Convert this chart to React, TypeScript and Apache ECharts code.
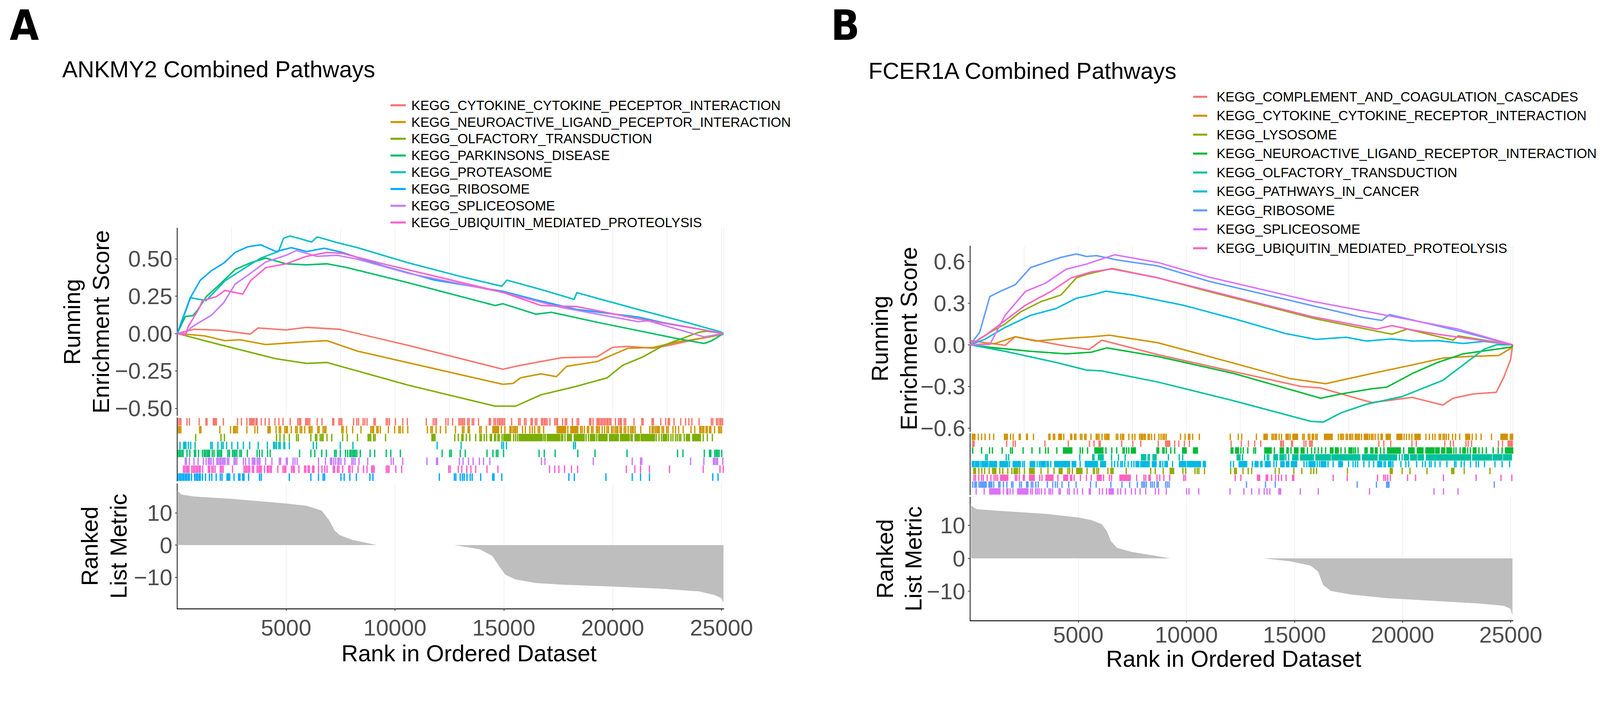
import { useEffect, useRef } from 'react'
import * as echarts from 'echarts'

const FONT = "'Liberation Sans', Arial, sans-serif"
const TAG_FONT = "'Liberation Sans Narrow', 'DejaVu Sans Condensed', 'Liberation Sans', sans-serif"

const PAGE_W = 4298
const PAGE_H = 1811

// shared axis settings
const RANK_MAX = 25100
const rankTicks = [5000, 10000, 15000, 20000, 25000]
const metricTicks = [-10, 0, 10]
const metricTickLabels = ['−10', '0', '10']

// ---------------- panel A : ANKMY2 ----------------
const namesA = [
  'KEGG_CYTOKINE_CYTOKINE_PECEPTOR_INTERACTION',
  'KEGG_NEUROACTIVE_LIGAND_PECEPTOR_INTERACTION',
  'KEGG_OLFACTORY_TRANSDUCTION',
  'KEGG_PARKINSONS_DISEASE',
  'KEGG_PROTEASOME',
  'KEGG_RIBOSOME',
  'KEGG_SPLICEOSOME',
  'KEGG_UBIQUITIN_MEDIATED_PROTEOLYSIS',
]
const colorsA = ['#F8766D', '#CD9600', '#7CAE00', '#00BE67', '#00BFC4', '#00A9FF', '#C77CFF', '#FF61CC']
const esTicksA = [-0.5, -0.25, 0, 0.25, 0.5]
const esTickLabelsA = ['−0.50', '−0.25', '0.00', '0.25', '0.50']

const cytokineEsA = [[0, 0], [786, 0.028], [1957, 0.022], [3363, -0.004], [3714, 0.037], [5002, 0.024], [5939, 0.041], [7461, 0.028], [10623, -0.08], [14955, -0.239], [15541, -0.22], [16946, -0.181], [17648, -0.162], [19288, -0.156], [19990, -0.093], [20693, -0.086], [21864, -0.099], [22567, -0.08], [23738, -0.042], [24675, -0.016], [25090, 0]]
const neuroEsA = [[0, 0], [1255, -0.016], [2192, -0.048], [2894, -0.042], [4065, -0.074], [5939, -0.055], [6876, -0.048], [8281, -0.118], [14955, -0.34], [15424, -0.334], [15775, -0.296], [16712, -0.27], [17415, -0.289], [17883, -0.22], [19288, -0.188], [19990, -0.143], [20693, -0.099], [21864, -0.093], [23035, -0.055], [24207, -0.029], [25090, -0.005]]
const olfEsA = [[0, 0], [2015, -0.077], [4534, -0.169], [5939, -0.2], [6876, -0.194], [10623, -0.346], [14604, -0.486], [15541, -0.486], [16712, -0.41], [18352, -0.353], [19756, -0.296], [20459, -0.213], [21396, -0.156], [22333, -0.08], [23972, 0.009], [24324, 0.015], [25090, 0]]
const parkEsA = [[0, 0], [375, 0.114], [717, 0.119], [940, 0.157], [1332, 0.246], [1964, 0.33], [2660, 0.428], [3363, 0.472], [4065, 0.504], [5002, 0.466], [5939, 0.459], [6876, 0.466], [7813, 0.44], [10623, 0.339], [14604, 0.187], [14955, 0.199], [16478, 0.129], [17180, 0.142], [19288, 0.075], [23035, -0.036], [24207, -0.067], [24558, -0.048], [25090, 0]]
const protEsA = [[0, 0], [598, 0.239], [1332, 0.22], [2192, 0.352], [3129, 0.44], [3831, 0.504], [4651, 0.548], [4885, 0.637], [5190, 0.652], [6173, 0.612], [6431, 0.646], [7344, 0.608], [8281, 0.574], [10623, 0.472], [12965, 0.383], [14909, 0.316], [15143, 0.357], [16712, 0.294], [18235, 0.228], [18352, 0.273], [21162, 0.161], [23504, 0.07], [24956, 0.011], [25090, 0]]
const riboEsA = [[0, 0], [318, 0.123], [623, 0.244], [1060, 0.356], [1570, 0.42], [2135, 0.47], [2660, 0.542], [3246, 0.58], [3831, 0.593], [4534, 0.548], [5237, 0.574], [5939, 0.548], [6759, 0.57], [7579, 0.542], [9452, 0.453], [11794, 0.358], [14955, 0.282], [16478, 0.225], [18352, 0.161], [21162, 0.11], [22333, 0.072], [25090, 0]]
const spliceEsA = [[0, 0], [375, 0], [649, 0.04], [990, 0.072], [1571, 0.122], [2135, 0.206], [2660, 0.33], [3363, 0.402], [4065, 0.478], [5002, 0.523], [5471, 0.555], [6407, 0.516], [7344, 0.523], [8281, 0.497], [10623, 0.402], [14955, 0.275], [17648, 0.174], [21162, 0.079], [21631, 0.085], [24207, -0.023], [25090, 0]]
const ubiqEsA = [[0, 0], [375, -0.01], [512, 0.047], [990, 0.164], [1161, 0.22], [1793, 0.246], [2192, 0.288], [3012, 0.263], [3363, 0.352], [4065, 0.44], [5002, 0.466], [5939, 0.516], [6876, 0.542], [7579, 0.536], [9452, 0.466], [14955, 0.275], [16712, 0.187], [18352, 0.18], [21162, 0.098], [23504, 0.041], [25090, 0]]

const hitsCytokineA = [40, 110, 170, 450, 560, 1010, 1320, 1370, 1660, 1700, 1750, 1800, 2120, 2770, 2950, 3200, 3330, 3380, 3430, 3480, 3540, 3620, 3670, 3860, 4040, 4220, 4490, 4670, 4860, 5190, 5540, 5610, 5670, 5900, 5960, 6020, 6090, 6430, 6650, 7140, 7190, 7430, 7490, 7560, 8100, 8250, 8330, 8540, 8620, 8720, 9040, 9100, 9600, 9670, 9750, 10020, 10360, 10570, 11440, 11760, 11840, 11910, 12340, 12440, 12650, 12940, 13000, 13070, 13130, 13200, 13340, 13410, 13550, 13620, 13840, 14330, 14390, 14550, 14620, 14710, 14780, 14840, 14910, 14970, 15040, 15360, 15680, 15750, 15950, 16020, 16250, 16310, 16450, 16520, 16730, 16790, 16860, 16920, 16990, 17120, 17340, 17410, 17470, 17700, 17820, 17890, 18150, 18370, 18440, 18940, 19000, 19100, 19280, 19340, 19400, 19470, 19530, 19600, 19660, 19730, 19790, 19860, 19920, 20130, 20270, 20340, 20400, 20530, 20600, 20980, 21340, 21400, 21810, 21870, 22210, 22440, 22550, 22610, 22820, 23130, 23350, 23500, 23640, 23970, 24530, 24600, 24770, 24840, 24920, 24980, 25050]
const hitsNeuroA = [60, 110, 170, 1030, 1090, 1960, 2450, 2590, 2640, 2700, 2770, 3200, 3570, 3690, 4170, 4220, 4270, 4540, 4690, 4750, 4940, 5010, 5060, 5240, 5440, 5510, 5650, 5720, 5860, 6060, 6120, 6190, 6460, 6520, 6700, 6770, 6830, 7560, 7620, 7780, 8060, 8440, 8890, 8960, 9020, 9170, 9230, 9330, 9700, 9990, 10180, 10250, 10360, 10590, 11490, 11650, 11720, 11890, 12090, 12340, 12780, 13100, 13170, 13360, 13420, 13890, 13960, 14200, 14890, 15050, 15280, 15340, 15420, 15490, 15550, 15620, 15860, 15990, 16200, 16310, 16420, 16580, 16650, 16830, 17940, 18530, 18600, 18700, 18840, 18900, 19030, 19100, 19260, 19320, 19390, 19520, 19630, 19740, 19810, 19950, 20020, 20110, 20180, 20240, 20340, 20400, 20530, 20600, 20710, 20820, 20890, 20950, 21030, 21290, 21710, 21810, 21870, 21950, 22020, 22080, 22140, 22270, 22340, 22480, 22550, 22770, 22890, 23030, 23240, 23600, 23770, 24000, 24060, 24130, 24190, 24290, 24350, 24450, 24510, 24680, 24870, 24930, 25000]
const runsNeuroA = [[14500, 14760], [17450, 17840], [18080, 18400]]
const hitsOlfA = [850, 2010, 2170, 4560, 4720, 4910, 5150, 5480, 5560, 6140, 6350, 6410, 6570, 6640, 6700, 6880, 7100, 7600, 7810, 8280, 8770, 8830, 8890, 9020, 9090, 9570, 12750, 12910, 13070, 13130, 13280, 13440, 13710, 13910, 13970, 14100, 14210, 14380, 14440, 14570, 14630, 14730, 14790, 14920, 15450, 15540, 15630, 16840, 16910, 17650, 17710, 17810, 18780, 18890, 19270, 20840, 20900, 22000, 22130, 22240, 22560, 22680, 22770, 22890, 22970, 23060, 23130, 23290, 24160, 24350, 24580]
const runsOlfA = [[11700, 11840], [15000, 15310], [15710, 16310], [16360, 16760], [17000, 17570], [17920, 18100], [18240, 18690], [18980, 19180], [19360, 19740], [19860, 20260], [20360, 20760], [21030, 21230], [21310, 21600], [21650, 21920], [22320, 22480], [23390, 23530], [23680, 24030]]
const hitsParkA = [40, 110, 170, 240, 270, 450, 580, 790, 850, 980, 1160, 1240, 1300, 1370, 1430, 1490, 1610, 1690, 1850, 1910, 1980, 2040, 2330, 2400, 2540, 2610, 2670, 2740, 2880, 2950, 3220, 3670, 3780, 3900, 4150, 4270, 5620, 6140, 6320, 6640, 6850, 7230, 7300, 7490, 7730, 7830, 7930, 7990, 8060, 8120, 8180, 8250, 8410, 8860, 9070, 9600, 9810, 10250, 12170, 12520, 12590, 13000, 13230, 14230, 14500, 14660, 14730, 14990, 16620, 16860, 17360, 18400, 19190, 20660, 22980, 23230, 24210, 24450, 24510, 24690, 24760, 24820, 24890, 25010]
const hitsProtA = [130, 300, 350, 400, 510, 620, 820, 1540, 1610, 1870, 2040, 2110, 2270, 2510, 2780, 3040, 3330, 3720, 4140, 4430, 4490, 4560, 4670, 4730, 4900, 4940, 5150, 6250, 6400, 7490, 8070, 11940, 13040, 14910, 14990, 15120, 18210, 18290]
const hitsRiboA = [40, 110, 170, 240, 300, 370, 430, 500, 560, 660, 800, 870, 930, 1000, 1060, 1160, 1300, 1480, 1590, 1790, 1980, 2060, 2290, 2350, 2410, 2610, 2820, 2880, 3010, 3070, 3280, 3780, 3860, 5150, 6140, 6490, 6700, 6770, 7520, 7670, 7930, 8230, 8850, 8990, 12040, 12730, 12800, 13000, 13100, 13180, 13310, 13460, 13550, 13940, 14490, 14550, 14910, 17990, 18240, 19690, 20900, 21280, 21690, 24600, 24840]
const hitsSpliceA = [370, 420, 560, 770, 960, 1200, 1330, 1430, 1490, 1560, 1660, 1820, 1880, 1950, 2010, 2080, 2140, 2200, 2300, 2370, 2610, 2670, 2740, 3040, 3140, 3300, 3450, 3510, 3570, 3670, 3740, 3800, 4060, 4350, 4690, 4750, 5010, 5060, 5320, 5410, 5510, 6490, 6810, 7040, 7100, 7190, 7280, 7380, 7440, 7520, 7700, 8020, 8090, 8170, 8350, 8750, 9830, 9930, 10360, 11470, 11910, 11960, 12960, 13130, 13380, 13590, 13880, 14070, 14360, 16730, 16890, 19110, 20900, 21280, 21340, 23580, 24190, 24630, 24690, 24760, 24820, 25060]
const hitsUbiqA = [290, 350, 420, 480, 540, 670, 740, 800, 870, 930, 1000, 1060, 1170, 1430, 1490, 1590, 1660, 1740, 1980, 2040, 2110, 2540, 3070, 3140, 3200, 3270, 3330, 3450, 3510, 3670, 3740, 3800, 3860, 4010, 4140, 4200, 4270, 4330, 4620, 4860, 4930, 4990, 5250, 5320, 5380, 5590, 5850, 5910, 6010, 6070, 6220, 6280, 6490, 6650, 6780, 6880, 7170, 7230, 7360, 7430, 7600, 7880, 7940, 8040, 8310, 8560, 8720, 8930, 8990, 9050, 9600, 9670, 9730, 10040, 10310, 12470, 12540, 12910, 13070, 13300, 13490, 13710, 14230, 14730, 17100, 17340, 17530, 17790, 18110, 18390, 20630, 21020, 21280, 21690, 22610, 24160, 24930, 25080]

// rug rows top to bottom, as indexes into namesA
const rugOrderA = [0, 1, 2, 4, 3, 6, 7, 5]

const metricPosA = [[0, 17.0], [190, 15.7], [770, 15.1], [2410, 14.4], [3820, 13.6], [5000, 12.9], [5940, 12.2], [6640, 10.7], [6990, 7.6], [7230, 4.5], [7460, 3.1], [8050, 1.6], [9170, 0]]
const metricNegA = [[12730, 0], [13900, -1.3], [14480, -3.4], [14790, -6.6], [15070, -9.2], [15540, -10.7], [16480, -11.8], [17650, -12.3], [19990, -12.9], [22330, -13.6], [23970, -14.4], [24670, -15.5], [25000, -16.5], [25090, -18.0]]

// ---------------- panel B : FCER1A ----------------
const namesB = [
  'KEGG_COMPLEMENT_AND_COAGULATION_CASCADES',
  'KEGG_CYTOKINE_CYTOKINE_RECEPTOR_INTERACTION',
  'KEGG_LYSOSOME',
  'KEGG_NEUROACTIVE_LIGAND_RECEPTOR_INTERACTION',
  'KEGG_OLFACTORY_TRANSDUCTION',
  'KEGG_PATHWAYS_IN_CANCER',
  'KEGG_RIBOSOME',
  'KEGG_SPLICEOSOME',
  'KEGG_UBIQUITIN_MEDIATED_PROTEOLYSIS',
]
const colorsB = ['#F8766D', '#D39200', '#93AA00', '#00BA38', '#00C19F', '#00B9E3', '#619CFF', '#DB72FB', '#FF61C3']
const esTicksB = [-0.6, -0.3, 0, 0.3, 0.6]
const esTickLabelsB = ['−0.6', '−0.3', '0.0', '0.3', '0.6']

const complEsB = [[0, 0.03], [1616, -0.004], [2087, 0.058], [4441, -0.01], [5500, -0.034], [6089, 0.033], [8678, -0.071], [12209, -0.194], [15269, -0.299], [16211, -0.311], [18565, -0.416], [20448, -0.379], [21860, -0.434], [22331, -0.385], [23272, -0.354], [24331, -0.342], [24686, -0.231], [24991, -0.108], [25090, 0]]
const cytoEsB = [[0, 0], [1145, 0.009], [2087, 0.058], [3028, 0.027], [4441, 0.046], [5618, 0.058], [6442, 0.069], [8678, 0.015], [12209, -0.133], [14799, -0.244], [16446, -0.28], [17152, -0.256], [18565, -0.207], [20448, -0.145], [21860, -0.096], [23037, -0.084], [24450, -0.077], [25038, -0.022], [25090, 0]]
const lysoEsB = [[0, 0], [910, 0.089], [1616, 0.15], [2322, 0.236], [3264, 0.31], [4205, 0.359], [4912, 0.482], [5382, 0.507], [6559, 0.55], [8678, 0.482], [11032, 0.384], [15975, 0.187], [19506, 0.076], [20213, 0.113], [22331, 0.033], [22567, 0.064], [25090, 0]]
const neuroEsB = [[0, 0], [1145, -0.022], [2793, -0.047], [4441, -0.065], [5618, -0.053], [6324, -0.022], [8678, -0.084], [12209, -0.207], [16211, -0.385], [17152, -0.354], [18565, -0.317], [19271, -0.305], [20448, -0.207], [21625, -0.127], [22802, -0.065], [24214, -0.034], [25038, -0.016], [25090, 0]]
const olfEsB = [[0, 0], [1616, -0.047], [3970, -0.127], [5382, -0.182], [6089, -0.188], [8678, -0.268], [12209, -0.404], [15740, -0.551], [16329, -0.557], [17152, -0.49], [18329, -0.428], [19977, -0.373], [21860, -0.256], [22802, -0.145], [23744, -0.034], [24331, 0], [25090, 0]]
const cancerEsB = [[0, 0], [675, 0.039], [1616, 0.125], [2793, 0.212], [3970, 0.261], [4912, 0.335], [5618, 0.359], [6277, 0.386], [7501, 0.359], [9855, 0.285], [12209, 0.187], [14563, 0.082], [15975, 0.039], [17388, 0.054], [18329, 0.027], [19506, 0.042], [20448, 0.027], [21625, 0.03], [22802, 0.009], [23744, 0.025], [25090, 0]]
const riboEsB = [[0, 0], [439, 0.089], [910, 0.347], [1381, 0.384], [2087, 0.433], [2793, 0.556], [3499, 0.593], [4205, 0.63], [4912, 0.654], [5382, 0.636], [5853, 0.642], [6795, 0.611], [8678, 0.568], [11032, 0.458], [15740, 0.285], [18094, 0.199], [19036, 0.175], [19389, 0.218], [22567, 0.101], [25090, 0]]
const spliceEsB = [[0, 0], [910, 0.002], [1616, 0.212], [2558, 0.384], [3499, 0.445], [4441, 0.544], [5382, 0.581], [6324, 0.63], [6677, 0.648], [8678, 0.593], [11032, 0.488], [15740, 0.316], [19271, 0.212], [22567, 0.113], [25090, 0]]
const ubiqEsB = [[0, 0], [675, 0.064], [1616, 0.175], [2558, 0.285], [3734, 0.384], [4676, 0.482], [5618, 0.525], [6559, 0.546], [8678, 0.482], [11032, 0.39], [15740, 0.205], [18800, 0.113], [19506, 0.138], [20448, 0.107], [21625, 0.076], [25090, 0]]

const hitsComplB = [120, 180, 1690, 1990, 2090, 3460, 4540, 5520, 5730, 5960, 6020, 7010, 7520, 7890, 8700, 9460, 9650, 9910, 10140, 12070, 12540, 12870, 13160, 13440, 14360, 14420, 14490, 14860, 14910, 15440, 15530, 15700, 15760, 15820, 18900, 19130, 19450, 20430, 20630, 21950, 22210, 22350, 22930, 23030, 23190, 24430, 24620]
const runsComplB = [[9040, 9230], [24880, 25070]]
const hitsCytoB = [100, 160, 220, 380, 530, 690, 900, 1090, 1870, 1990, 2270, 2320, 2610, 2650, 2930, 3640, 3690, 3850, 3910, 4330, 4650, 4700, 4830, 4890, 5100, 5170, 5300, 5360, 5590, 5830, 5890, 5960, 6100, 6230, 6300, 6360, 6420, 6760, 6830, 6960, 7040, 7100, 7340, 7500, 7620, 7840, 7910, 7970, 8040, 8100, 8230, 8290, 8390, 8530, 8730, 8830, 8920, 8990, 9070, 9730, 9940, 10100, 10160, 10290, 10600, 12030, 12400, 12560, 13240, 13960, 14030, 14110, 14170, 14290, 14400, 14800, 15380, 15450, 15640, 15710, 15820, 15880, 15980, 16050, 17030, 17130, 17190, 17260, 17390, 17450, 17550, 17610, 17690, 17810, 17870, 17940, 18000, 18100, 18470, 18560, 18630, 18730, 18870, 19000, 19060, 20070, 20180, 20300, 20430, 21080, 21240, 21390, 21500, 21690, 21760, 21870, 21940, 22020, 22130, 22310, 22450, 22640, 23220, 23400, 23630, 24110]
const runsCytoB = [[1590, 1720], [4100, 4220], [13590, 13740], [14610, 14720], [14930, 15140], [16390, 16740], [18230, 18390], [19240, 19430], [19740, 19970], [20570, 20810], [22920, 23100], [24550, 24840], [24980, 25090]]
const hitsLysoB = [400, 540, 670, 880, 1370, 1510, 1740, 1930, 2280, 2510, 3280, 3600, 3880, 4520, 4600, 4730, 5410, 5700, 5750, 5860, 5940, 6370, 7220, 8350, 8560, 8930, 9840, 9970, 10400, 10500, 10580, 10840, 12050, 12620, 12860, 13020, 14110, 14290, 14970, 15340, 15760, 15890, 16020, 17450, 19980, 20340, 21130, 22850, 24040]
const runsLysoB = [[170, 250], [1040, 1190], [2030, 2190], [2750, 2960], [4120, 4250], [4930, 5170], [6510, 6610], [9250, 9410], [12230, 12310], [19430, 19520], [22270, 22370]]
const hitsNeuroB = [120, 530, 900, 1030, 1480, 1870, 1950, 2450, 2860, 3220, 3490, 3610, 4010, 5090, 5200, 5430, 6280, 6550, 6780, 7070, 7130, 7230, 7340, 8910, 8970, 9070, 9280, 9460, 12520, 12630, 12840, 13120, 13200, 14070, 14650, 14710, 14840, 15600, 15790, 15940, 16100, 16260, 16440, 17150, 17340, 17740, 17820, 17940, 18980, 19140, 20050, 22370, 22470, 22660, 23010, 23130, 23530, 23690, 23870, 24190, 24420, 24600]
const runsNeuroB = [[4320, 4700], [5770, 6140], [7460, 7640], [8640, 8720], [9830, 9990], [10330, 10510], [12070, 12150], [12280, 12410], [13630, 13920], [14340, 14490], [15000, 15160], [15310, 15440], [16660, 16780], [16890, 17020], [17520, 17660], [18260, 18360], [18530, 18630], [18740, 18820], [19310, 19890], [20280, 20530], [20680, 20940], [21080, 21450], [21530, 21690], [21810, 21950], [22050, 22260], [22790, 22900], [23270, 23390], [24760, 25090]]
const hitsOlfB = [720, 790, 1670, 1780, 5070, 5670, 5730, 6150, 6540, 6860, 7170, 8230, 8290, 9170, 9670, 9830, 12600, 13620, 13740, 13810, 14600, 14730, 15870, 19850, 19980]
const runsOlfB = [[5930, 6100], [7930, 8120], [8460, 8600], [12350, 12480], [14050, 14210], [14330, 14520], [14920, 15160], [15280, 15810], [15990, 16660], [16740, 18020], [18150, 18820], [18920, 19720], [20080, 20270], [20370, 20640], [20720, 20960], [21100, 23140], [23240, 24110], [24190, 24590], [24670, 25030]]
const hitsCancerB = [490, 1820, 2430, 2510, 3100, 3200, 3560, 3620, 3730, 5090, 6550, 6680, 6830, 6970, 7040, 7150, 7310, 7460, 7570, 8280, 8770, 8810, 8910, 9360, 12050, 12180, 13050, 13440, 13500, 14050, 14160, 15440, 15570, 15950, 16050, 16160, 16550, 16790, 17500, 17710, 17820, 17920, 18210, 18450, 18660, 19140, 19210, 19550, 19920, 20150, 20280, 20650, 20920, 21050, 21240, 21320, 21500, 21730, 22050, 22400, 22470, 22710, 22850, 23140, 23400, 23510, 23790, 24270, 24600, 24950]
const runsCancerB = [[100, 180], [250, 410], [560, 820], [900, 1030], [1090, 1220], [1380, 1560], [1610, 1740], [1990, 2320], [2780, 2990], [3270, 3480], [3910, 4150], [4200, 4600], [4720, 4880], [5330, 5890], [6040, 6260], [7670, 7800], [7890, 8230], [8430, 8600], [9010, 9120], [9680, 9970], [10050, 10440], [10500, 10650], [10780, 10880], [12440, 12790], [13180, 13310], [13650, 13870], [14370, 14520], [14630, 14740], [14860, 15100], [15670, 15890], [16240, 16450], [17050, 17210], [18850, 19030], [19350, 19470]]
const hitsRiboB = [120, 410, 1090, 1320, 1380, 1540, 1700, 1920, 1980, 2290, 2370, 2830, 2900, 3040, 3150, 3570, 3820, 3940, 4040, 4250, 4560, 4900, 5570, 5830, 6510, 7020, 7380, 7730, 7940, 8010, 8070, 8150, 8350, 8430, 8520, 8640, 8700, 9040, 9120, 9200, 12780, 13660, 14110, 17900, 18790, 24240]
const runsRiboB = [[210, 290], [480, 740], [870, 1000], [2610, 2670], [19260, 19370]]
const hitsSpliceB = [280, 650, 1540, 1700, 1750, 1850, 1980, 2800, 2880, 3030, 3110, 3190, 3300, 3460, 3650, 3720, 3810, 4110, 4170, 4510, 4590, 4810, 4960, 5200, 5510, 5560, 5980, 6120, 6310, 6830, 6960, 7180, 7460, 7640, 7860, 8120, 8570, 8720, 9070, 10010, 10120, 10570, 12020, 12660, 13020, 13360, 13600, 13730, 13860, 15270, 16100, 18470, 21450, 21890, 22560]
const runsSpliceB = [[910, 1380], [2200, 2670], [6430, 6620], [14280, 14360]]
const hitsUbiqB = [180, 250, 400, 530, 610, 790, 960, 1110, 1190, 1270, 1410, 2090, 2160, 2270, 2460, 2510, 2960, 3220, 3320, 4060, 4640, 4700, 4810, 5100, 5380, 5600, 6170, 6440, 6540, 7700, 8040, 8120, 8270, 8330, 8640, 8770, 8960, 9230, 9880, 9960, 12260, 12520, 13940, 14130, 14260, 14400, 14610, 16790, 17440, 18840, 19130, 19210, 19310, 19430, 20230, 20600, 21890, 23400, 24550, 25050]
const runsUbiqB = [[1460, 1740], [2750, 2910], [3510, 3830], [4330, 4510], [5880, 6060], [6930, 7400], [13290, 13390], [13690, 13760], [14910, 14970]]

const rugOrderB = [1, 0, 3, 4, 5, 2, 8, 6, 7]

const metricPosB = [[0, 16.5], [100, 15.7], [320, 14.9], [1615, 14.3], [3500, 13.5], [5000, 12.4], [5610, 11.6], [6080, 10.4], [6320, 8.3], [6510, 5.2], [6790, 3.2], [7490, 1.9], [8440, 0.9], [9260, 0]]
const metricNegB = [[13570, 0], [14800, -0.9], [15740, -2.2], [16090, -4.0], [16330, -8.1], [16680, -9.9], [17620, -11.0], [19270, -12.1], [21620, -13.0], [23500, -13.7], [24680, -14.4], [24990, -15.3], [25080, -17.3]]

type Box = {
  left: number; width: number
  esTop: number; esH: number; rugTop: number; rugH: number; metTop: number; metH: number
  xLabelMargin: number
  tagX: number; tagY: number; titleX: number; titleY: number
  legKeyX: number; legKeyW: number; legTextX: number; legY: number; legStep: number
  esTitle: number[]; metTitle: number[]; xTitle: number[]
}

type Panel = {
  tag: string; title: string
  names: string[]; colors: string[]
  es: number[][][]
  hits: number[][]; runs: number[][][]
  rugOrder: number[]
  metricPos: number[][]; metricNeg: number[][]
  esTicks: number[]; esTickLabels: string[]
  esMin: number; esMax: number; metMin: number; metMax: number
  box: Box
}

const panelA: Panel = {
  tag: 'A',
  title: 'ANKMY2 Combined Pathways',
  names: namesA,
  colors: colorsA,
  es: [cytokineEsA, neuroEsA, olfEsA, parkEsA, protEsA, riboEsA, spliceEsA, ubiqEsA],
  hits: [hitsCytokineA, hitsNeuroA, hitsOlfA, hitsParkA, hitsProtA, hitsRiboA, hitsSpliceA, hitsUbiqA],
  runs: [[], runsNeuroA, runsOlfA, [], [], [], [], []],
  rugOrder: rugOrderA,
  metricPos: metricPosA,
  metricNeg: metricNegA,
  esTicks: esTicksA,
  esTickLabels: esTickLabelsA,
  esMin: -0.549, esMax: 0.705, metMin: -19.77, metMax: 19.08,
  box: {
    left: 476, width: 1468,
    esTop: 613, esH: 504, rugTop: 1123, rugH: 170, metTop: 1300, metH: 336,
    xLabelMargin: 20,
    tagX: 26, tagY: 68, titleX: 167, titleY: 187,
    legKeyX: 1049, legKeyW: 41, legTextX: 1105, legY: 283, legStep: 45,
    esTitle: [233, 865], metTitle: [280, 1468], xTitle: [1260, 1757],
  },
}

const panelB: Panel = {
  tag: 'B',
  title: 'FCER1A Combined Pathways',
  names: namesB,
  colors: colorsB,
  es: [complEsB, cytoEsB, lysoEsB, neuroEsB, olfEsB, cancerEsB, riboEsB, spliceEsB, ubiqEsB],
  hits: [hitsComplB, hitsCytoB, hitsLysoB, hitsNeuroB, hitsOlfB, hitsCancerB, hitsRiboB, hitsSpliceB, hitsUbiqB],
  runs: [runsComplB, runsCytoB, runsLysoB, runsNeuroB, runsOlfB, runsCancerB, runsRiboB, runsSpliceB, runsUbiqB],
  rugOrder: rugOrderB,
  metricPos: metricPosB,
  metricNeg: metricNegB,
  esTicks: esTicksB,
  esTickLabels: esTickLabelsB,
  esMin: -0.625, esMax: 0.712, metMin: -18.9, metMax: 18.6,
  box: {
    left: 456, width: 1458,
    esTop: 661, esH: 499, rugTop: 1165, rugH: 165, metTop: 1336, metH: 332,
    xLabelMargin: 7,
    tagX: 82, tagY: 68, titleX: 183, titleY: 191,
    legKeyX: 1055, legKeyW: 38, legTextX: 1118, legY: 260, legStep: 50.9,
    esTitle: [253, 910], metTitle: [266, 1502], xTitle: [1164, 1771],
  },
}

function tickFormatter(ticks: number[], labels: string[]) {
  return (v: number) => {
    const i = ticks.findIndex(t => Math.abs(t - v) < 1e-6)
    return i >= 0 ? labels[i] : ''
  }
}

function buildOption(p: Panel): any {
  const b = p.box
  const hidden = { show: false }
  const gridLine = { show: true, lineStyle: { color: '#EBEBEB', width: 1.5 } }
  const yLine = { show: true, onZero: false, lineStyle: { color: '#000', width: 2 } }
  const tick = { show: true, length: 6, lineStyle: { color: '#333', width: 2 } }
  const tickText = { fontSize: 61, fontFamily: FONT, color: '#4D4D4D' }

  const esSeries = p.es.map((data, i) => ({
    type: 'line',
    name: p.names[i],
    xAxisIndex: 0,
    yAxisIndex: 0,
    data,
    symbol: 'none',
    showSymbol: false,
    silent: true,
    lineStyle: { width: 4, color: p.colors[i] },
    itemStyle: { color: p.colors[i] },
  }))

  // one rug row per gene set: single hits plus runs of hits too dense to separate
  const rugSeries = p.rugOrder.map((pi, row) => ({
    type: 'custom',
    name: p.names[pi],
    xAxisIndex: 1,
    yAxisIndex: 1,
    silent: true,
    encode: { x: [0, 1], y: 2 },
    data: [
      ...p.hits[pi].map(r => [r, r, row]),
      ...p.runs[pi].map(([s, e]) => [s, e, row]),
    ],
    renderItem: (_params: any, api: any) => {
      const a = api.coord([api.value(0), api.value(2)])
      const c = api.coord([api.value(1), api.value(2)])
      const band = api.size([0, 1])[1]
      return {
        type: 'rect',
        shape: { x: a[0] - 1.75, y: a[1] - band / 2 + 0.5, width: c[0] - a[0] + 3.5, height: band - 1 },
        style: { fill: p.colors[pi] },
      }
    },
  }))

  const metricSeries = [p.metricPos, p.metricNeg].map(data => ({
    type: 'line',
    xAxisIndex: 2,
    yAxisIndex: 2,
    data,
    symbol: 'none',
    showSymbol: false,
    silent: true,
    lineStyle: { width: 0, opacity: 0 },
    areaStyle: { color: '#BEBEBE', opacity: 1 },
  }))

  const legend = p.names.flatMap((n, i) => [
    {
      type: 'rect',
      shape: { x: b.legKeyX, y: b.legY + i * b.legStep - 2.75, width: b.legKeyW, height: 5.5 },
      style: { fill: p.colors[i] },
    },
    {
      type: 'text',
      x: b.legTextX,
      y: b.legY + i * b.legStep,
      style: { text: n, fontSize: 36, fontFamily: FONT, fill: '#000', align: 'left', verticalAlign: 'middle' },
    },
  ])

  return {
    animation: false,
    backgroundColor: '#fff',
    grid: [
      { left: b.left, top: b.esTop, width: b.width, height: b.esH },
      { left: b.left, top: b.rugTop, width: b.width, height: b.rugH },
      { left: b.left, top: b.metTop, width: b.width, height: b.metH },
    ],
    xAxis: [
      { gridIndex: 0, type: 'value', min: 0, max: RANK_MAX, interval: 2500, axisLine: hidden, axisTick: hidden, axisLabel: hidden, splitLine: gridLine },
      { gridIndex: 1, type: 'value', min: 0, max: RANK_MAX, axisLine: hidden, axisTick: hidden, axisLabel: hidden, splitLine: hidden },
      {
        gridIndex: 2, type: 'value', min: 0, max: RANK_MAX, interval: 2500,
        axisLine: { show: true, onZero: false, lineStyle: { color: '#000', width: 2.5 } },
        axisTick: { ...tick, customValues: rankTicks },
        axisLabel: { show: true, customValues: rankTicks, formatter: (v: number) => String(v), margin: b.xLabelMargin, ...tickText },
        splitLine: gridLine,
      },
    ],
    yAxis: [
      {
        gridIndex: 0, type: 'value', min: p.esMin, max: p.esMax,
        axisLine: yLine, splitLine: hidden,
        axisTick: { ...tick, customValues: p.esTicks },
        axisLabel: { show: true, customValues: p.esTicks, formatter: tickFormatter(p.esTicks, p.esTickLabels), margin: 13, ...tickText },
      },
      {
        gridIndex: 1, type: 'category', inverse: true,
        data: p.rugOrder.map(i => p.names[i]),
        axisLine: yLine, axisTick: hidden, axisLabel: hidden, splitLine: hidden,
      },
      {
        gridIndex: 2, type: 'value', min: p.metMin, max: p.metMax,
        axisLine: yLine, splitLine: hidden,
        axisTick: { ...tick, customValues: metricTicks },
        axisLabel: { show: true, customValues: metricTicks, formatter: tickFormatter(metricTicks, metricTickLabels), margin: 13, ...tickText },
      },
    ],
    series: [...metricSeries, ...rugSeries, ...esSeries],
    graphic: [
      {
        type: 'text', x: b.tagX, y: b.tagY,
        style: { text: p.tag, fontSize: 113, fontWeight: 'bold', fontFamily: TAG_FONT, fill: '#000', align: 'left', verticalAlign: 'middle' },
      },
      {
        type: 'text', x: b.titleX, y: b.titleY,
        style: { text: p.title, fontSize: 62, fontFamily: FONT, fill: '#000', align: 'left', verticalAlign: 'middle' },
      },
      ...legend,
      {
        type: 'text', x: b.esTitle[0], y: b.esTitle[1], rotation: Math.PI / 2,
        style: { text: 'Running\nEnrichment Score', fontSize: 62, lineHeight: 77, fontFamily: FONT, fill: '#000', align: 'center', verticalAlign: 'middle' },
      },
      {
        type: 'text', x: b.metTitle[0], y: b.metTitle[1], rotation: Math.PI / 2,
        style: { text: 'Ranked\nList Metric', fontSize: 62, lineHeight: 77, fontFamily: FONT, fill: '#000', align: 'center', verticalAlign: 'middle' },
      },
      {
        type: 'text', x: b.xTitle[0], y: b.xTitle[1],
        style: { text: 'Rank in Ordered Dataset', fontSize: 62, fontFamily: FONT, fill: '#000', align: 'center', verticalAlign: 'middle' },
      },
    ],
  }
}

function PanelChart({ panel, left, width }: { panel: Panel; left: number; width: number }) {
  const chartRef = useRef<HTMLDivElement>(null)

  useEffect(() => {
    if (!chartRef.current) return
    const chart = echarts.init(chartRef.current, undefined, { renderer: 'svg' })
    chart.setOption(buildOption(panel))
    return () => {
      chart.dispose()
    }
  }, [panel])

  return <div ref={chartRef} style={{ position: 'absolute', left, top: 0, width, height: PAGE_H }} />
}

export default function App() {
  // the browser viewport can be narrower than the figure, so fit the figure into it
  const vw = typeof window !== 'undefined' ? window.innerWidth : PAGE_W
  const vh = typeof window !== 'undefined' ? window.innerHeight : PAGE_H
  const scale = Math.min(1, vw / PAGE_W, vh / PAGE_H)

  return (
    <div style={{ position: 'fixed', left: 0, top: 0, width: vw, height: vh, overflow: 'hidden', background: '#fff' }}>
      <div
        style={{
          position: 'absolute', left: 0, top: 0, width: PAGE_W, height: PAGE_H,
          transform: `scale(${scale})`, transformOrigin: '0 0',
        }}
      >
        <PanelChart panel={panelA} left={0} width={2150} />
        <PanelChart panel={panelB} left={2150} width={2148} />
      </div>
    </div>
  )
}
